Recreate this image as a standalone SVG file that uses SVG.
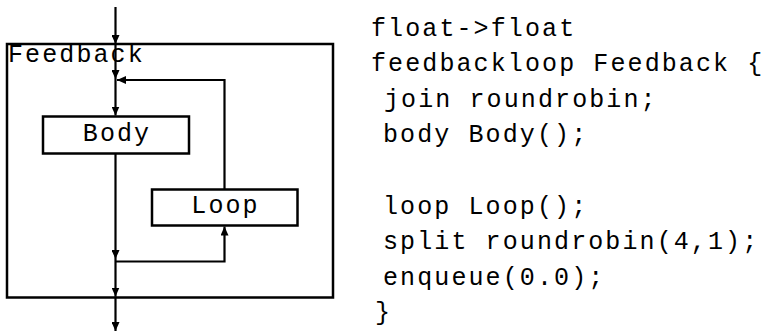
<svg xmlns="http://www.w3.org/2000/svg" width="769" height="332" viewBox="0 0 769 332">
<defs>
<marker id="ah" markerUnits="userSpaceOnUse" markerWidth="9" markerHeight="8" refX="9" refY="4" orient="auto">
<path d="M0,0 L9,4 L0,8 z" fill="#000"/>
</marker>
</defs>
<style>
.t{font-family:"Liberation Mono","Courier New",monospace;font-size:25px;letter-spacing:2.1px;fill:#000}
.box{fill:#fff;stroke:#000;stroke-width:2.5}
.c{fill:none;stroke:#000;stroke-width:2.2}
</style>
<rect width="769" height="332" fill="#fff"/>
<g id="feedback">
<rect x="7" y="44" width="326" height="253.5" fill="none" stroke="#000" stroke-width="2.5"/>
<text class="t" x="8" y="62">Feedback</text>
</g>
<g id="body">
<rect class="box" x="43" y="116.5" width="146" height="37"/>
<text class="t" x="117" y="141" text-anchor="middle">Body</text>
</g>
<g id="loop">
<rect class="box" x="152" y="189.5" width="145.5" height="36"/>
<text class="t" x="225.5" y="213" text-anchor="middle">Loop</text>
</g>
<g id="connectors">
<line class="c" x1="115.5" y1="7" x2="115.5" y2="44" marker-end="url(#ah)"/>
<line class="c" x1="115.5" y1="44" x2="115.5" y2="79" marker-end="url(#ah)"/>
<line class="c" x1="115.5" y1="79" x2="115.5" y2="115.5" marker-end="url(#ah)"/>
<line class="c" x1="115.5" y1="154" x2="115.5" y2="259" marker-end="url(#ah)"/>
<line class="c" x1="115.5" y1="259" x2="115.5" y2="296.5" marker-end="url(#ah)"/>
<line class="c" x1="115.5" y1="296.5" x2="115.5" y2="331" marker-end="url(#ah)"/>
<polyline class="c" points="224.5,189 224.5,80 117,80" marker-end="url(#ah)"/>
<polyline class="c" points="115.5,261.5 224.5,261.5 224.5,226.5" marker-end="url(#ah)" stroke-width="2.6"/>
</g>
<g id="code">
<text class="t" x="371" y="35.5">float-&gt;float</text>
<text class="t" x="371" y="71">feedbackloop Feedback {</text>
<text class="t" x="384" y="106.5">join roundrobin;</text>
<text class="t" x="383" y="142">body Body();</text>
<text class="t" x="383" y="213.5">loop Loop();</text>
<text class="t" x="383" y="249">split roundrobin(4,1);</text>
<text class="t" x="383" y="285">enqueue(0.0);</text>
<text class="t" x="375" y="320">}</text>
</g>
</svg>
